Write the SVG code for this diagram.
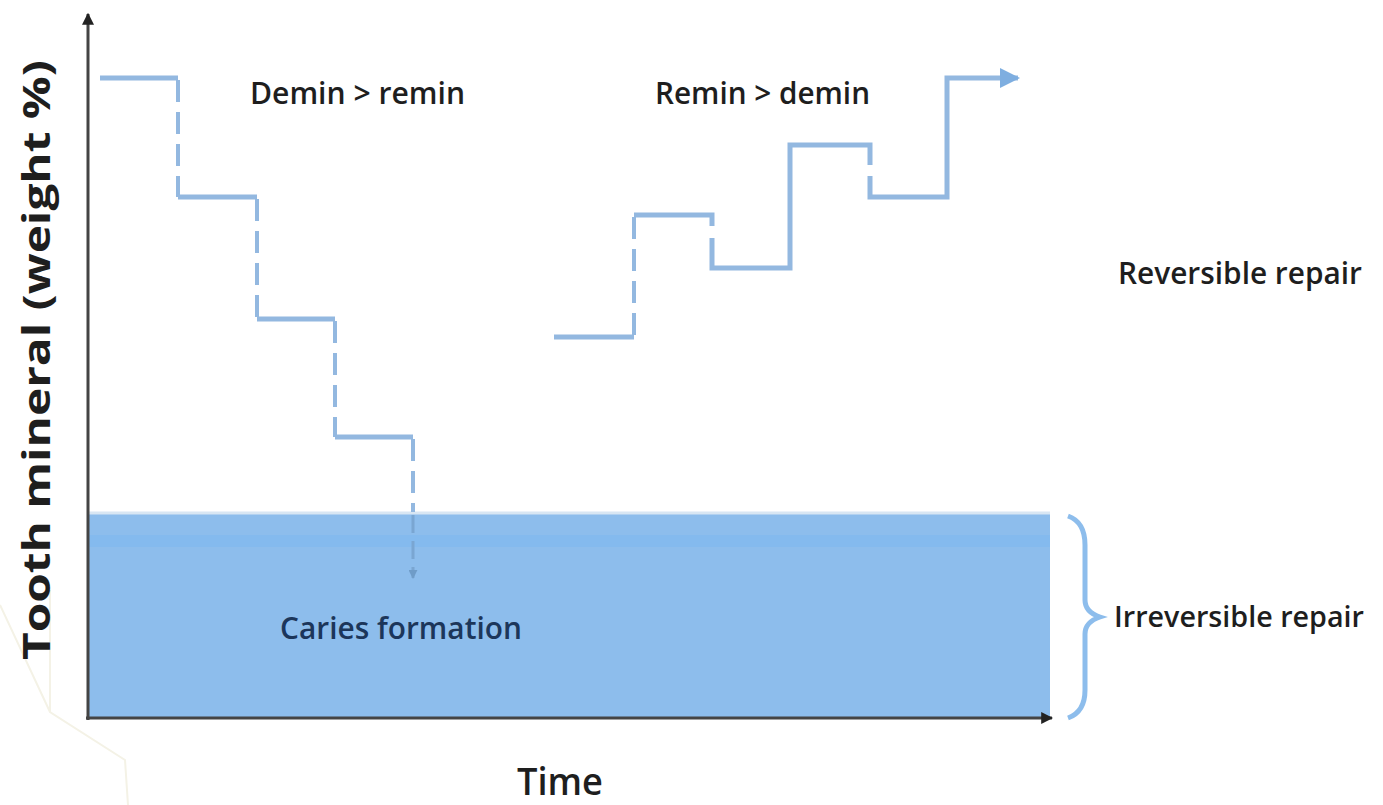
<svg xmlns="http://www.w3.org/2000/svg" width="1383" height="805" viewBox="0 0 1383 805">
<style>
.lbl{font-family:"Open Sans","Liberation Sans",sans-serif;font-size:31px;fill:#1e1e1e;font-weight:600}
.step{fill:none;stroke:#93b8e0;stroke-width:5}
.dash{fill:none;stroke:#93b8e0;stroke-width:4;stroke-dasharray:22 10}
.axis{stroke:#444;stroke-width:3;fill:none}
.hex{stroke:#f4f2e6;stroke-width:2;fill:none}
</style>
<defs>
<marker id="ah" viewBox="0 0 10 10" refX="9" refY="5" markerWidth="4" markerHeight="4" orient="auto"><path d="M0,0L10,5L0,10z" fill="#222"/></marker>
<marker id="bh" viewBox="0 0 10 10" refX="9" refY="5" markerWidth="4" markerHeight="4" orient="auto"><path d="M0,0L10,5L0,10z" fill="#7eaee0"/></marker>
<marker id="ch" viewBox="0 0 10 10" refX="9" refY="5" markerWidth="3" markerHeight="3" orient="auto"><path d="M0,0L10,5L0,10z" fill="#6f9cc8"/></marker>
</defs>
<rect width="1383" height="805" fill="#fff"/>
<g id="watermark">
<path class="hex" d="M0,605 L50,712 L125,760 L128,805"/>
<path class="hex" d="M50,712 L50,590"/>
</g>
<g id="region">
<rect x="88" y="512" width="962" height="206" fill="#8dbdec"/>
<rect x="88" y="535" width="962" height="12" fill="#84baee"/>
<line x1="88" y1="513" x2="1050" y2="513" stroke="#d8e6f3" stroke-width="3"/>
</g>
<g id="connectors">
<path class="step" d="M100,78 H178"/>
<path class="dash" d="M178,80 V197"/>
<path class="step" d="M178,197 H257"/>
<path class="dash" d="M257,199 V319"/>
<path class="step" d="M257,319 H335"/>
<path class="dash" d="M335,321 V437"/>
<path class="step" d="M335,437 H413"/>
<path class="dash" d="M413,439 V512"/>
<path d="M413,515 V578" fill="none" stroke="#7aa6d2" stroke-width="3" stroke-dasharray="18 8" marker-end="url(#ch)"/>
<path class="step" d="M554,337 H634"/>
<path class="dash" d="M634,335 V215"/>
<path class="step" d="M634,215 H712 V226"/>
<path class="step" d="M712,238 V268 H790 V145 H870 V165"/>
<path class="step" d="M870,176 V197 H947 V78 H1018" marker-end="url(#bh)"/>
</g>
<g id="axes">
<line class="axis" x1="88" y1="720" x2="88" y2="14" marker-end="url(#ah)"/>
<line class="axis" x1="86" y1="718" x2="1052" y2="718" marker-end="url(#ah)"/>
</g>
<g id="brace">
<path d="M1068,516 Q1085,522 1085,545 V600 Q1085,612 1100,617 Q1085,622 1085,634 V690 Q1085,712 1068,718" fill="none" stroke="#8dbdec" stroke-width="5"/>
</g>
<g id="labels">
<text class="lbl" x="250" y="104" textLength="215" lengthAdjust="spacingAndGlyphs">Demin &gt; remin</text>
<text class="lbl" x="655" y="104" textLength="215" lengthAdjust="spacingAndGlyphs">Remin &gt; demin</text>
<text class="lbl" x="1118" y="284" textLength="244" lengthAdjust="spacingAndGlyphs">Reversible repair</text>
<text class="lbl" x="1114" y="627" textLength="250" lengthAdjust="spacingAndGlyphs" style="font-size:29px">Irreversible repair</text>
<text class="lbl" x="280" y="639" textLength="242" lengthAdjust="spacingAndGlyphs" style="fill:#1c365a">Caries formation</text>
<text class="lbl" x="517" y="795" textLength="86" lengthAdjust="spacingAndGlyphs" style="font-size:38px">Time</text>
<text class="lbl" transform="translate(50,660) rotate(-90)" x="0" y="0" textLength="600" lengthAdjust="spacingAndGlyphs" style="font-size:38px;font-weight:700">Tooth mineral (weight %)</text>
</g>
</svg>
